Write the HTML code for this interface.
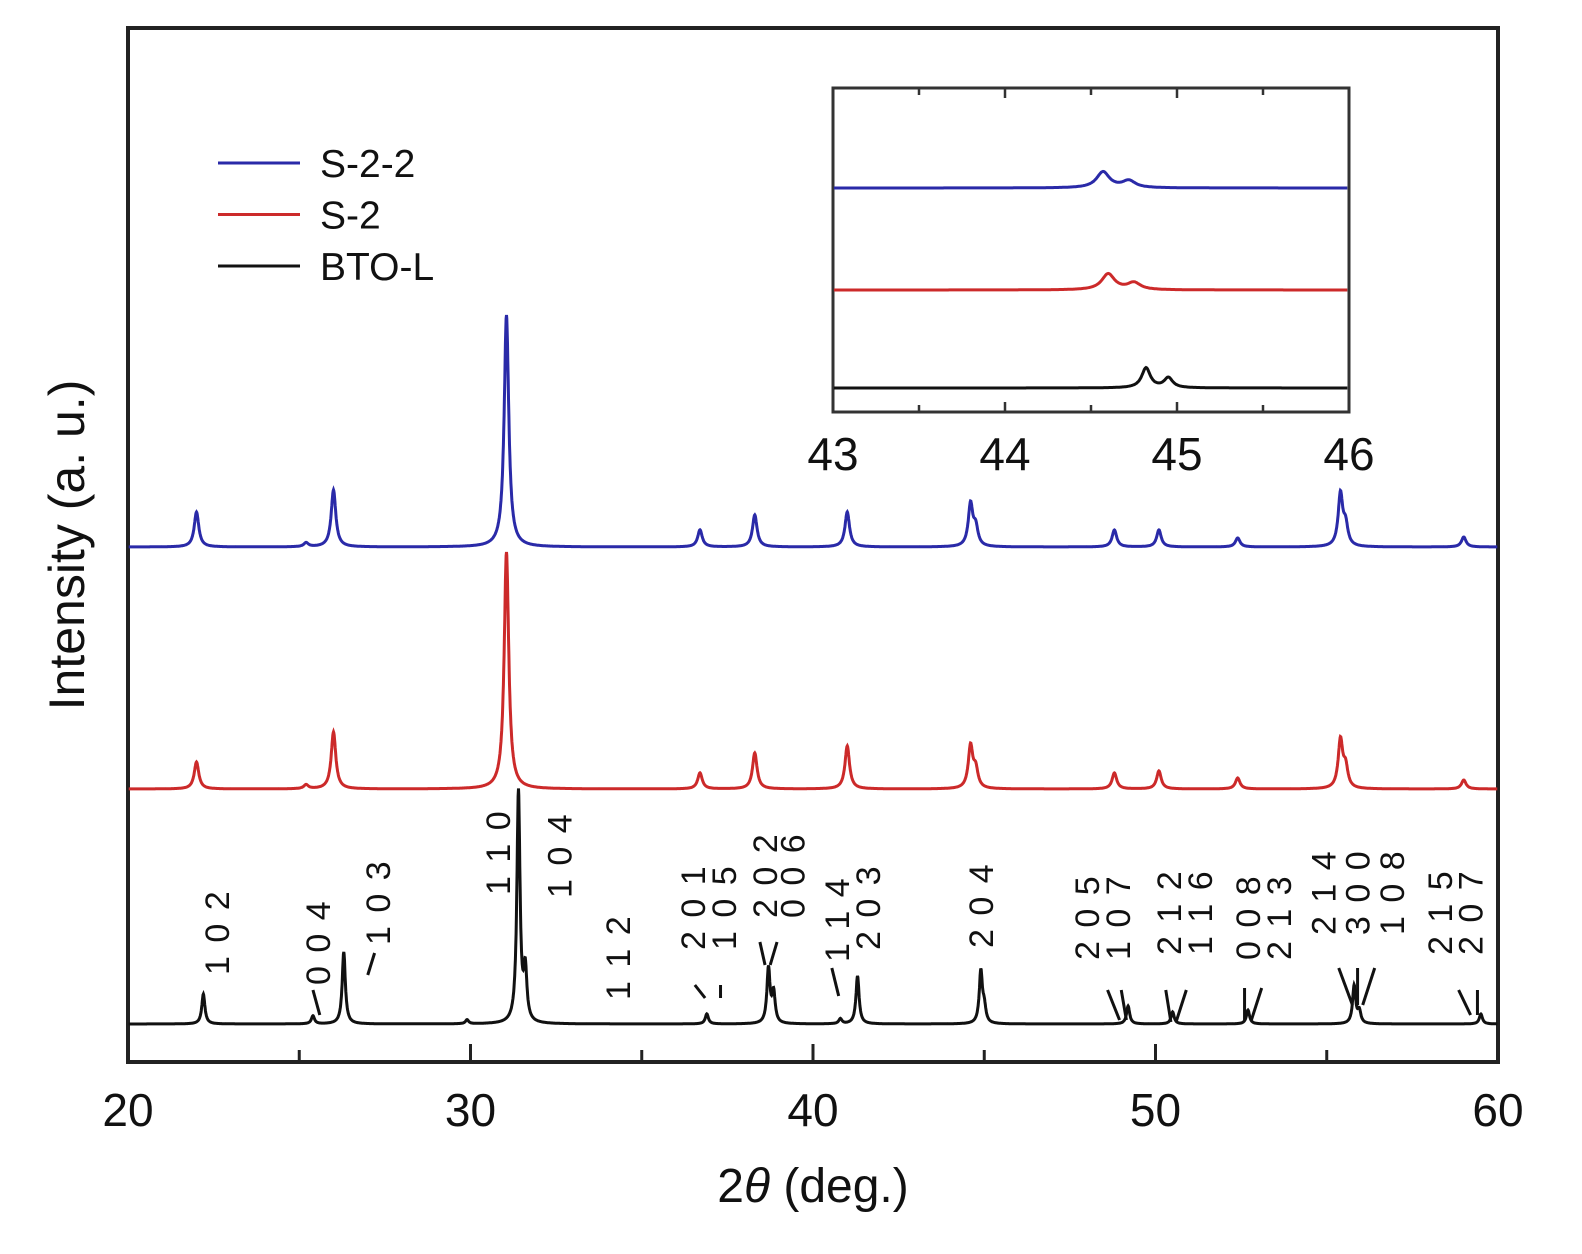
<!DOCTYPE html>
<html><head><meta charset="utf-8"><style>
html,body{margin:0;padding:0;background:#fff}
svg{display:block;font-family:"Liberation Sans",Arial,sans-serif}
</style></head><body>
<svg id="chart" width="1582" height="1254" viewBox="0 0 1582 1254" xmlns="http://www.w3.org/2000/svg"></svg>
<script>
// ---- data ----
const xTicks = [20, 30, 40, 50, 60];
const insetTicks = [43, 44, 45, 46];
const seriesNames = ["S-2-2", "S-2", "BTO-L"];
const blackPos = [22.2, 25.4, 26.3, 29.9, 31.4, 31.6, 36.9, 38.7, 38.85, 40.8, 41.3, 44.9, 45.0, 49.2, 50.5, 52.7, 55.8, 55.95, 59.5];
const blackHt  = [30, 8, 72, 4, 232, 50, 10, 55, 30, 5, 48, 52, 15, 18, 12, 14, 38, 12, 10];
const redPos = [22.0, 25.2, 26.0, 31.05, 36.7, 38.3, 41.0, 44.6, 44.75, 48.8, 50.1, 52.4, 55.4, 55.55, 59.0];
const redHt  = [27, 4, 57, 237, 16, 36, 43, 42, 18, 16, 18, 11, 48, 20, 9];
const bluePos = [22.0, 25.2, 26.0, 31.05, 36.7, 38.3, 41.0, 44.6, 44.75, 48.8, 50.1, 52.4, 55.4, 55.55, 59.0];
const blueHt  = [35, 4, 57, 232, 17, 32, 35, 42, 18, 17, 17, 9, 52, 20, 10];
const baselines = [547, 789, 1024];
const colors = ["#2a2aa8", "#cc2a2a", "#111"];
const insetBase = [188, 290, 388];
const insetPos = [[44.57, 44.72], [44.6, 44.75], [44.82, 44.95]];
const insetHt = [[16, 7], [16, 7], [20, 10]];
const labels = [
 {t:"1 0 2",d:22.6,b:975},
 {t:"0 0 4",d:25.55,b:985},{t:"1 0 3",d:27.3,b:945},
 {t:"1 1 0",d:30.8,b:895},{t:"1 0 4",d:32.6,b:898},
 {t:"1 1 2",d:34.3,b:1000},{t:"2 0 1",d:36.5,b:950},{t:"1 0 5",d:37.4,b:950},
 {t:"2 0 2",d:38.6,b:918},{t:"0 0 6",d:39.4,b:918},
 {t:"1 1 4",d:40.7,b:962},{t:"2 0 3",d:41.6,b:950},{t:"2 0 4",d:44.9,b:948},
 {t:"2 0 5",d:48.0,b:960},{t:"1 0 7",d:48.9,b:960},
 {t:"2 1 2",d:50.4,b:955},{t:"1 1 6",d:51.3,b:955},
 {t:"0 0 8",d:52.7,b:960},{t:"2 1 3",d:53.6,b:960},
 {t:"2 1 4",d:54.9,b:935},{t:"3 0 0",d:55.9,b:935},{t:"1 0 8",d:56.9,b:935},
 {t:"2 1 5",d:58.3,b:955},{t:"2 0 7",d:59.2,b:955}
];
const leaders = [[25.4,990,25.6,1015],[27.0,975,27.2,953],[36.85,998,36.55,985],[37.3,998,37.3,985],
 [38.6,965,38.45,942],[38.75,965,38.95,942],[40.75,996,40.55,968],
 [48.95,1020,48.6,990],[49.15,1020,49.0,990],[50.45,1022,50.3,990],[50.6,1022,50.9,990],
 [52.6,1020,52.6,988],[52.8,1020,53.1,988],[55.75,1005,55.35,968],[55.9,1005,55.9,968],[56.05,1005,56.4,968],
 [59.2,1015,58.85,990],[59.4,1015,59.4,990]];
// ---- axes ----
const X0=128,X1=1498,Y0=28,Y1=1062;
const xs = v => X0 + (v-20)*(X1-X0)/40;
const IX0=833,IX1=1349,IY0=88,IY1=412;
const ixs = v => IX0 + (v-43)*(IX1-IX0)/3;
const svg=document.getElementById('chart');
const NS="http://www.w3.org/2000/svg";
function mk(tag,attrs,parent){const e=document.createElementNS(NS,tag);for(const k in attrs)e.setAttribute(k,attrs[k]);(parent||svg).appendChild(e);return e;}
function profile(pos,ht,w,x){let s=0;for(let i=0;i<pos.length;i++){const d=(x-pos[i])/w;s+=ht[i]/(1+d*d);}return s;}
let f=mk('rect',{x:X0,y:Y0,width:X1-X0,height:Y1-Y0,fill:'none',stroke:'#222','stroke-width':4});

for(let v=20;v<=60;v+=5){const major=v%10===0;let t=mk('line',{x1:xs(v),x2:xs(v),y1:Y1,y2:Y1-(major?18:12),stroke:'#222','stroke-width':3});
}
xTicks.forEach(v=>{let t=mk('text',{x:xs(v),y:1126,'font-size':46,'text-anchor':'middle',fill:'#111'});t.textContent=v;
});
let xt=mk('text',{x:813,y:1202,'font-size':48,'text-anchor':'middle',fill:'#111'});
xt.innerHTML='2<tspan font-style="italic">θ</tspan> (deg.)';

let yt=mk('text',{x:0,y:0,'font-size':50,'text-anchor':'middle',fill:'#111',transform:'translate(84,545) rotate(-90)'});
yt.textContent='Intensity (a. u.)';
const allPos=[bluePos,redPos,blackPos],allHt=[blueHt,redHt,blackHt],widths=[0.08,0.08,0.055];
for(let s=0;s<3;s++){let d='';for(let x=20.02;x<=59.98;x+=0.01){const y=baselines[s]-profile(allPos[s],allHt[s],widths[s],x);d+=(d?'L':'M')+xs(x).toFixed(1)+','+y.toFixed(1);}
let p=mk('path',{d:d,fill:'none',stroke:colors[s],'stroke-width':3});
}
seriesNames.forEach((n,i)=>{const y=163+i*51.5;let l=mk('line',{x1:218,x2:300,y1:y,y2:y,stroke:colors[i],'stroke-width':3});

let t=mk('text',{x:320,y:y+14,'font-size':39,fill:'#111'});t.textContent=n;
});
labels.forEach(L=>{let t=mk('text',{x:0,y:0,'font-size':34,fill:'#111','letter-spacing':'2',transform:'translate('+(xs(L.d)+12)+','+L.b+') rotate(-90)'});
t.textContent=L.t;});
leaders.forEach(q=>{let l=mk('line',{x1:xs(q[0]),y1:q[1],x2:xs(q[2]),y2:q[3],stroke:'#111','stroke-width':3});
});
let ir=mk('rect',{x:IX0,y:IY0,width:IX1-IX0,height:IY1-IY0,fill:'#fff',stroke:'#333','stroke-width':3});

for(let v=43;v<=46;v+=0.5){const major=Math.abs(v-Math.round(v))<1e-6;const L=major?10:7;
let a=mk('line',{x1:ixs(v),x2:ixs(v),y1:IY1,y2:IY1-L,stroke:'#333','stroke-width':2.5});
let b=mk('line',{x1:ixs(v),x2:ixs(v),y1:IY0,y2:IY0+L,stroke:'#333','stroke-width':2.5});}
insetTicks.forEach(v=>{let t=mk('text',{x:ixs(v),y:470,'font-size':46,'text-anchor':'middle',fill:'#111'});t.textContent=v;
});
for(let s=0;s<3;s++){let d='';for(let x=43.005;x<=45.995;x+=0.005){const y=insetBase[s]-profile(insetPos[s],insetHt[s],s===2?0.03:0.045,x);d+=(d?'L':'M')+ixs(x).toFixed(1)+','+y.toFixed(1);}
let p=mk('path',{d:d,fill:'none',stroke:colors[s],'stroke-width':3});
}
</script>
</body></html>
